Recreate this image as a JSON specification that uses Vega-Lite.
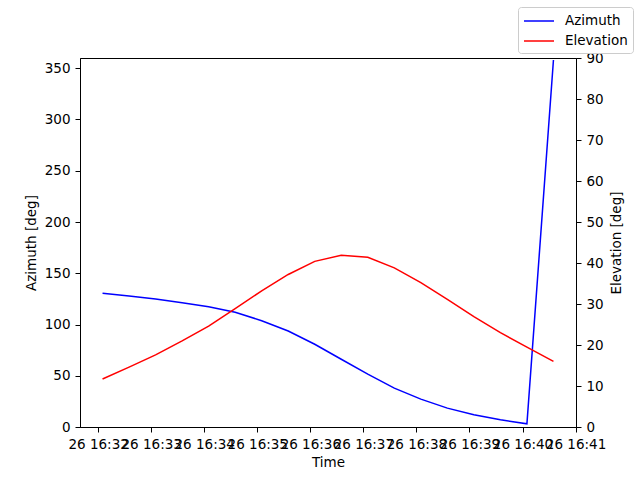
{
  "$schema": "https://vega.github.io/schema/vega-lite/v6.json",
  "width": 496,
  "height": 369,
  "autosize": {"type": "none"},
  "padding": {"left": 80, "top": 58, "right": 64, "bottom": 53},
  "background": "white",
  "config": {
    "font": "DejaVu Sans",
    "view": {"stroke": "black", "strokeWidth": 1},
    "axis": {
      "domainColor": "black",
      "tickColor": "black",
      "labelColor": "black",
      "titleColor": "black",
      "labelFontSize": 13.5,
      "titleFontSize": 13.5,
      "titleFontWeight": "normal",
      "tickSize": 5,
      "labelPadding": 5,
      "grid": false
    }
  },
  "data": {
    "values": [
      {"time": "2024-01-26T16:32:05", "azimuth": 130.4, "elevation": 11.7},
      {"time": "2024-01-26T16:32:35", "azimuth": 127.8, "elevation": 14.6},
      {"time": "2024-01-26T16:33:05", "azimuth": 124.9, "elevation": 17.6},
      {"time": "2024-01-26T16:33:35", "azimuth": 121.3, "elevation": 21.0},
      {"time": "2024-01-26T16:34:05", "azimuth": 117.4, "elevation": 24.6},
      {"time": "2024-01-26T16:34:35", "azimuth": 112.0, "elevation": 28.9},
      {"time": "2024-01-26T16:35:05", "azimuth": 103.7, "elevation": 33.2},
      {"time": "2024-01-26T16:35:35", "azimuth": 93.7, "elevation": 37.2},
      {"time": "2024-01-26T16:36:05", "azimuth": 80.7, "elevation": 40.4},
      {"time": "2024-01-26T16:36:35", "azimuth": 66.1, "elevation": 41.9},
      {"time": "2024-01-26T16:37:05", "azimuth": 51.5, "elevation": 41.4},
      {"time": "2024-01-26T16:37:35", "azimuth": 37.9, "elevation": 38.8},
      {"time": "2024-01-26T16:38:05", "azimuth": 27.2, "elevation": 35.2},
      {"time": "2024-01-26T16:38:35", "azimuth": 18.4, "elevation": 31.1},
      {"time": "2024-01-26T16:39:05", "azimuth": 11.9, "elevation": 26.9},
      {"time": "2024-01-26T16:39:35", "azimuth": 7.0, "elevation": 23.0},
      {"time": "2024-01-26T16:40:05", "azimuth": 3.1, "elevation": 19.5},
      {"time": "2024-01-26T16:40:35", "azimuth": 358.0, "elevation": 16.0}
    ]
  },
  "encoding": {
    "x": {
      "field": "time",
      "type": "temporal",
      "title": "Time",
      "scale": {
        "domain": ["2024-01-26T16:31:39.5", "2024-01-26T16:41:00.5"],
        "nice": false
      },
      "axis": {
        "format": "%d %H:%M",
        "values": ["2024-01-26T16:32:00", "2024-01-26T16:33:00", "2024-01-26T16:34:00", "2024-01-26T16:35:00", "2024-01-26T16:36:00", "2024-01-26T16:37:00", "2024-01-26T16:38:00", "2024-01-26T16:39:00", "2024-01-26T16:40:00", "2024-01-26T16:41:00"],
        "labelOverlap": false,
        "labelFlush": false,
        "titlePadding": 5
      }
    }
  },
  "layer": [
    {
      "mark": {"type": "line", "strokeWidth": 1.5, "clip": true},
      "encoding": {
        "y": {
          "field": "azimuth",
          "type": "quantitative",
          "title": "Azimuth [deg]",
          "scale": {"domain": [0, 360], "nice": false},
          "axis": {"values": [0, 50, 100, 150, 200, 250, 300, 350], "titlePadding": 6}
        },
        "color": {
          "datum": "Azimuth",
          "type": "nominal",
          "scale": {"domain": ["Azimuth", "Elevation"], "range": ["#0000ff", "#ff0000"]},
          "legend": {
            "title": null,
            "orient": "none",
            "legendX": 438,
            "legendY": -51,
            "symbolType": "M-1,0H2.75",
            "symbolSize": 256,
            "symbolStrokeWidth": 1.5,
            "labelFontSize": 13.5,
            "labelColor": "black",
            "labelOffset": 24,
            "strokeColor": "#cccccc",
            "fillColor": "white",
            "cornerRadius": 3,
            "padding": 5,
            "rowPadding": 4
          }
        }
      }
    },
    {
      "mark": {"type": "line", "strokeWidth": 1.5, "clip": true},
      "encoding": {
        "y": {
          "field": "elevation",
          "type": "quantitative",
          "title": "Elevation [deg]",
          "scale": {"domain": [0, 90], "nice": false},
          "axis": {"orient": "right", "values": [0, 10, 20, 30, 40, 50, 60, 70, 80, 90], "titlePadding": 6, "titleAngle": 270, "titleBaseline": "top"}
        },
        "color": {"datum": "Elevation", "type": "nominal"}
      }
    }
  ],
  "resolve": {"scale": {"y": "independent"}}
}
